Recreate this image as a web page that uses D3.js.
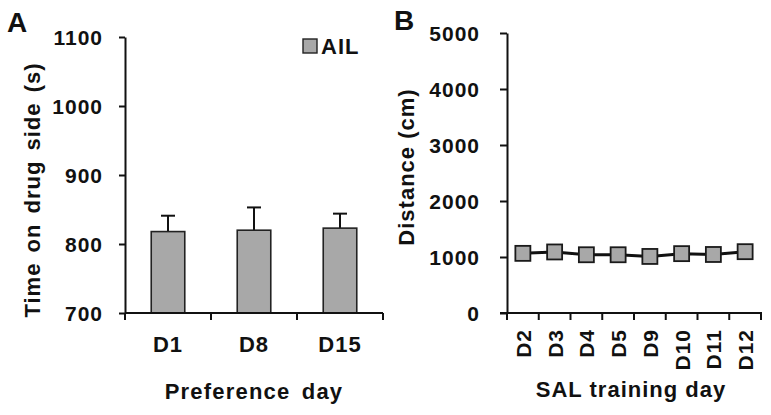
<!DOCTYPE html>
<html>
<head>
<meta charset="utf-8">
<script src="https://cdn.jsdelivr.net/npm/d3@7"></script>
<style>
  html, body { margin: 0; padding: 0; background: #fff; }
  svg text { font-family: "Liberation Sans", Arial, sans-serif; font-weight: bold; fill: #111; }
</style>
</head>
<body>
<svg id="chart" width="771" height="415"></svg>
<script>
// Panel A data
const prefDays = ["D1", "D8", "D15"];
const prefMeans = [818, 820, 823];
const prefErrors = [23, 33, 21];
const prefTicks = [700, 800, 900, 1000, 1100];

// Panel B data
const trainDays = ["D2", "D3", "D4", "D5", "D9", "D10", "D11", "D12"];
const trainDistance = [1065, 1090, 1040, 1040, 1010, 1060, 1045, 1095];
const distTicks = [0, 1000, 2000, 3000, 4000, 5000];

const svg = d3.select("#chart");
const ink = "#111";
const grey = "#a8a8a8";

function styleAxis(g) {
  g.select(".domain").attr("stroke", ink).attr("stroke-width", 2);
  g.selectAll(".tick line").attr("stroke", ink).attr("stroke-width", 2);
  g.selectAll(".tick text").attr("fill", ink).style("font-size", "21px").style("letter-spacing", "1px");
}

// ---------- Panel A ----------
const xA = d3.scaleBand().domain(prefDays).range([125, 383]).padding(0);
const yA = d3.scaleLinear().domain([700, 1100]).range([313, 37]);

const bw = xA.bandwidth();
const barW = bw * 0.39;
const gA = svg.append("g");
prefDays.forEach((d, i) => {
  const cx = xA(d) + bw / 2;
  gA.append("line").attr("x1", cx).attr("x2", cx)
    .attr("y1", yA(prefMeans[i])).attr("y2", yA(prefMeans[i] + prefErrors[i]))
    .attr("stroke", ink).attr("stroke-width", 2);
  gA.append("line").attr("x1", cx - 7).attr("x2", cx + 7)
    .attr("y1", yA(prefMeans[i] + prefErrors[i])).attr("y2", yA(prefMeans[i] + prefErrors[i]))
    .attr("stroke", ink).attr("stroke-width", 2);
  gA.append("rect")
    .attr("x", cx - barW / 2).attr("width", barW)
    .attr("y", yA(prefMeans[i])).attr("height", yA(700) - yA(prefMeans[i]))
    .attr("fill", grey).attr("stroke", "#222").attr("stroke-width", 1.6);
});

const axA = svg.append("g").attr("transform", "translate(125,0)")
  .call(d3.axisLeft(yA).tickValues(prefTicks).tickFormat(d3.format("d")).tickSize(6).tickSizeOuter(0).tickPadding(16));
styleAxis(axA);
axA.selectAll(".tick text").attr("dy", "0.36em");

svg.append("line").attr("x1", 125).attr("x2", 383).attr("y1", yA(700)).attr("y2", yA(700))
  .attr("stroke", ink).attr("stroke-width", 2);
const boundsA = prefDays.map(d => xA(d)).concat([xA(prefDays[prefDays.length - 1]) + bw]);
svg.selectAll(".tA").data(boundsA).enter().append("line")
  .attr("x1", d => d).attr("x2", d => d).attr("y1", yA(700)).attr("y2", yA(700) + 7)
  .attr("stroke", ink).attr("stroke-width", 2);
svg.selectAll(".lA").data(prefDays).enter().append("text")
  .attr("x", d => xA(d) + bw / 2).attr("y", 352)
  .attr("text-anchor", "middle").style("font-size", "22px").style("letter-spacing", "1px")
  .text(d => d);

svg.append("text").attr("x", 254).attr("y", 399).attr("text-anchor", "middle")
  .style("font-size", "22px").style("letter-spacing", "1.2px").style("word-spacing", "4px")
  .text("Preference day");
svg.append("text").attr("transform", "translate(40,190) rotate(-90)").attr("text-anchor", "middle")
  .style("font-size", "22px").style("letter-spacing", "1px").style("word-spacing", "3px")
  .text("Time on drug side (s)");
svg.append("text").attr("x", 7).attr("y", 32).style("font-size", "28px").text("A");

svg.append("rect").attr("x", 303).attr("y", 39).attr("width", 14).attr("height", 14)
  .attr("fill", grey).attr("stroke", "#222").attr("stroke-width", 1.4);
svg.append("text").attr("x", 321).attr("y", 54).style("font-size", "22px").style("letter-spacing", "1px").text("AIL");

// ---------- Panel B ----------
const xB = d3.scaleBand().domain(trainDays).range([507, 761]).padding(0);
const yB = d3.scaleLinear().domain([0, 5000]).range([313, 33]);
const bwB = xB.bandwidth();

const axB = svg.append("g").attr("transform", "translate(507,0)")
  .call(d3.axisLeft(yB).tickValues(distTicks).tickFormat(d3.format("d")).tickSize(7).tickSizeOuter(0).tickPadding(20));
styleAxis(axB);
axB.selectAll(".tick text").attr("dy", "0.36em");

svg.append("line").attr("x1", 500).attr("x2", 762).attr("y1", yB(0)).attr("y2", yB(0))
  .attr("stroke", ink).attr("stroke-width", 2);
const boundsB = trainDays.map(d => xB(d)).concat([xB(trainDays[trainDays.length - 1]) + bwB]);
svg.selectAll(".tB").data(boundsB).enter().append("line")
  .attr("x1", d => d).attr("x2", d => d).attr("y1", yB(0)).attr("y2", yB(0) + 7)
  .attr("stroke", ink).attr("stroke-width", 2);
svg.selectAll(".lB").data(trainDays).enter().append("text")
  .attr("transform", d => `translate(${xB(d) + bwB / 2 + 8},329) rotate(-90)`)
  .attr("text-anchor", "end").style("font-size", "21px").style("letter-spacing", "1px")
  .text(d => d);

const line = d3.line().x((d, i) => xB(trainDays[i]) + bwB / 2).y(d => yB(d));
svg.append("path").datum(trainDistance).attr("d", line)
  .attr("fill", "none").attr("stroke", ink).attr("stroke-width", 3);
svg.selectAll(".mB").data(trainDistance).enter().append("rect")
  .attr("x", (d, i) => xB(trainDays[i]) + bwB / 2 - 7.5).attr("y", d => yB(d) - 7.5)
  .attr("width", 15).attr("height", 15)
  .attr("fill", grey).attr("stroke", "#1a1a1a").attr("stroke-width", 1.8);

svg.append("text").attr("x", 631).attr("y", 397).attr("text-anchor", "middle")
  .style("font-size", "22px").style("letter-spacing", "1px").text("SAL training day");
svg.append("text").attr("transform", "translate(414,167) rotate(-90)").attr("text-anchor", "middle")
  .style("font-size", "22px").style("letter-spacing", "1px").text("Distance (cm)");
svg.append("text").attr("x", 394).attr("y", 30).style("font-size", "28px").text("B");
</script>
</body>
</html>
